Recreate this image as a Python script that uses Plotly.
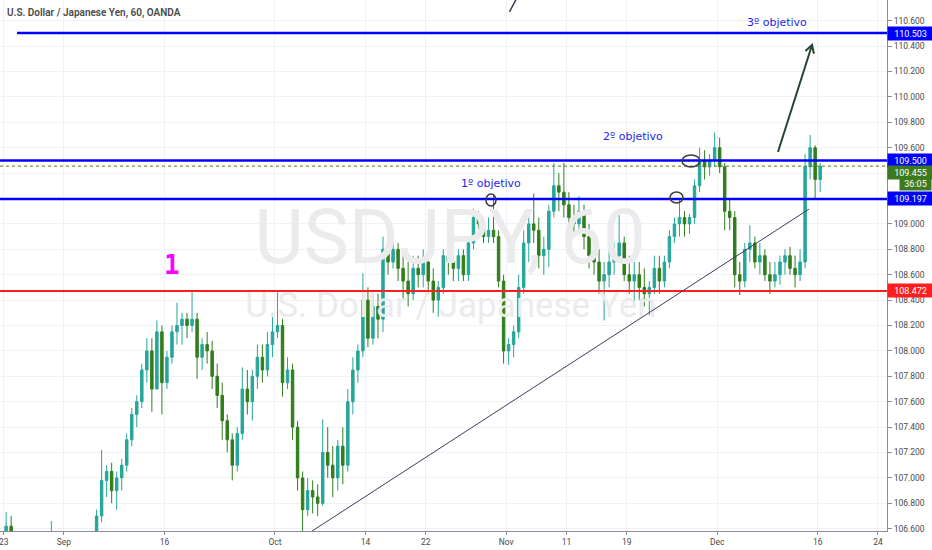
import pandas as pd
import plotly.graph_objects as go

# ---------------- data (half-day candles, USDJPY 60 OANDA) -------------
first_open = 106.55
highs = [
    106.73, 106.70, 105.60, 105.90, 106.00, 106.00, 106.20, 106.30, 106.40, 106.66,
    106.50, 106.40, 106.30, 106.20, 106.10, 106.10, 106.30, 106.50, 106.75, 107.22,
    107.10, 107.12, 107.05, 107.15, 107.35, 107.55, 107.65, 107.90, 108.10, 108.10,
    108.24, 108.20, 108.00, 108.20, 108.38, 108.30, 108.30, 108.47, 108.30, 108.10,
    108.15, 108.08, 107.90, 107.75, 107.50, 107.35, 107.40, 107.87, 107.85, 107.85,
    108.05, 108.05, 108.15, 108.30, 108.46, 108.25, 107.95, 107.90, 107.45, 107.05,
    107.00, 106.98, 106.95, 107.46, 107.40, 107.25, 107.30, 107.40, 107.70, 107.95,
    108.05, 108.61, 108.50, 108.45, 108.45, 108.90, 108.90, 108.88, 108.85, 108.80,
    108.70, 108.75, 108.75, 108.80, 108.78, 108.65, 108.55, 108.80, 108.85, 108.80,
    108.80, 108.80, 108.90, 109.12, 109.10, 109.05, 109.05, 109.22, 108.95, 108.60,
    108.10, 108.20, 108.60, 108.95, 109.10, 109.24, 109.05, 108.90, 109.15, 109.48,
    109.40, 109.48, 109.25, 109.15, 109.22, 109.15, 109.00, 108.85, 108.80, 108.70,
    108.80, 108.85, 109.07, 108.90, 108.75, 108.70, 108.70, 108.65, 108.55, 108.75,
    108.75, 108.75, 108.95, 109.05, 109.20, 109.10, 109.08, 109.35, 109.60, 109.58,
    109.55, 109.72, 109.68, 109.48, 109.20, 109.10, 108.70, 108.85, 108.99, 108.90,
    108.85, 108.80, 108.70, 108.70, 108.75, 108.80, 108.82, 108.75, 108.80, 109.55,
    109.70, 109.62, 109.48,
]
lows = [
    106.40, 105.35, 104.50, 105.00, 105.60, 105.70, 105.70, 106.00, 106.00, 106.20,
    106.20, 106.10, 105.90, 105.90, 105.70, 105.80, 105.90, 106.10, 106.35, 106.65,
    106.85, 106.80, 106.75, 106.90, 107.05, 107.25, 107.40, 107.55, 107.75, 107.52,
    107.70, 107.50, 107.70, 107.90, 108.05, 108.05, 108.10, 108.15, 107.78, 107.85,
    107.90, 107.70, 107.55, 107.30, 107.20, 106.98, 107.05, 107.30, 107.50, 107.45,
    107.70, 107.75, 107.80, 107.95, 108.10, 107.64, 107.70, 107.30, 106.90, 106.48,
    106.70, 106.72, 106.70, 106.78, 107.00, 106.85, 106.90, 106.95, 107.05, 107.50,
    107.75, 107.95, 108.03, 108.05, 108.10, 108.15, 108.60, 108.65, 108.55, 108.40,
    108.35, 108.40, 108.50, 108.50, 108.45, 108.30, 108.27, 108.45, 108.60, 108.55,
    108.55, 108.55, 108.55, 108.80, 108.90, 108.85, 108.85, 108.85, 108.50, 107.90,
    107.89, 107.95, 108.10, 108.45, 108.70, 108.85, 108.65, 108.60, 108.66, 109.05,
    109.10, 109.05, 108.95, 108.90, 108.95, 108.80, 108.65, 108.60, 108.45, 108.24,
    108.50, 108.60, 108.70, 108.55, 108.45, 108.35, 108.40, 108.35, 108.28, 108.45,
    108.45, 108.50, 108.65, 108.85, 108.90, 108.90, 108.92, 109.00, 109.25, 109.35,
    109.38, 109.45, 109.40, 108.95, 108.95, 108.50, 108.44, 108.50, 108.70, 108.65,
    108.60, 108.55, 108.45, 108.50, 108.52, 108.60, 108.60, 108.50, 108.55, 108.65,
    109.35, 109.20, 109.25,
]
closes = [
    106.62, 105.40, 105.10, 105.70, 105.90, 105.80, 106.10, 106.20, 106.30, 106.45,
    106.30, 106.25, 106.10, 106.00, 105.90, 106.00, 106.20, 106.40, 106.70, 106.98,
    107.05, 106.90, 107.00, 107.10, 107.30, 107.50, 107.60, 107.85, 108.00, 107.70,
    108.15, 107.75, 107.95, 108.15, 108.20, 108.25, 108.20, 108.25, 107.95, 108.05,
    108.00, 107.80, 107.65, 107.45, 107.30, 107.10, 107.35, 107.70, 107.60, 107.80,
    107.95, 107.85, 108.05, 108.15, 108.20, 107.75, 107.85, 107.40, 107.00, 106.75,
    106.90, 106.85, 106.80, 107.20, 107.10, 107.00, 107.25, 107.10, 107.60, 107.85,
    108.00, 108.40, 108.10, 108.35, 108.25, 108.80, 108.70, 108.80, 108.65, 108.55,
    108.45, 108.65, 108.60, 108.70, 108.55, 108.40, 108.50, 108.75, 108.70, 108.65,
    108.75, 108.60, 108.85, 109.05, 109.00, 108.90, 108.95, 108.90, 108.55, 108.00,
    108.05, 108.15, 108.50, 108.85, 109.00, 108.95, 108.75, 108.80, 109.10, 109.30,
    109.25, 109.15, 109.05, 109.00, 109.10, 108.90, 108.75, 108.70, 108.55, 108.60,
    108.70, 108.75, 108.85, 108.60, 108.55, 108.60, 108.50, 108.45, 108.50, 108.65,
    108.55, 108.70, 108.90, 109.00, 109.05, 109.00, 109.05, 109.30, 109.50, 109.45,
    109.50, 109.60, 109.45, 109.10, 109.05, 108.60, 108.55, 108.80, 108.85, 108.70,
    108.75, 108.60, 108.55, 108.60, 108.70, 108.75, 108.65, 108.60, 108.70, 109.45,
    109.60, 109.35, 109.455,
]
opens = [first_open] + closes[:-1]

trading_days = pd.bdate_range("2019-08-23", "2019-12-16")
times = []
for d in trading_days:
    times.append(d + pd.Timedelta(hours=6))
    times.append(d + pd.Timedelta(hours=18))
times = times[:len(closes)]

x_tick_dates = ["2019-08-23", "2019-09-02", "2019-09-16", "2019-10-01", "2019-10-14", "2019-10-22",
                "2019-11-01", "2019-11-11", "2019-11-19", "2019-12-02", "2019-12-16", "2019-12-24"]
x_tick_text = ["23", "Sep", "16", "Oct", "14", "22", "Nov", "11", "19", "Dec", "16", "24"]
y_ticks = [106.6, 106.8, 107.0, 107.2, 107.4, 107.6, 107.8, 108.0, 108.2, 108.4, 108.6,
           108.8, 109.0, 109.2, 109.4, 109.6, 109.8, 110.0, 110.2, 110.4, 110.6]
y_ticks_hidden = [109.2, 109.4]   # covered by the price labels in the reference

levels_blue = [110.503, 109.500, 109.197]
level_red = 108.472
last_price = 109.455
countdown = "36:05"

# drawings (time, price anchors)
trend_line = [("2019-10-04 15:50", 106.58), ("2019-12-13 03:22", 109.117)]
arrow_line = [("2019-12-10 01:12", 109.566), ("2019-12-13 10:34", 110.409)]
top_stroke = [("2019-11-01 08:00", 110.67), ("2019-11-04 10:00", 110.83)]
ellipses = [
    ("2019-10-29 23:45", "2019-10-30 23:45", 109.141, 109.235),
    ("2019-11-25 07:26", "2019-11-26 14:24", 109.165, 109.251),
    ("2019-11-26 12:00", "2019-11-28 06:58", 109.448, 109.543),
]
texts = [("1º objetivo", "2019-10-30 12:00", 109.322),
         ("2º objetivo", "2019-11-19 15:07", 109.692),
         ("3º objetivo", "2019-12-09 23:00", 110.582)]
label_one = ("1", "2019-09-16 17:00", 108.676)
watermark = [("USDJPY, 60", "2019-10-24 10:05", 108.842, 76),
             ("U.S. Dollar / Japanese Yen", "2019-10-24 12:28", 108.338, 35)]

UP = "#26a69a"
DN = "#317d1c"
BLUE = "#0000ff"
RED = "#ff1e1e"
GREEN_LBL = "#3d7a1e"
TXT = "#4a4a4a"
GRID = "#eef2f7"
AXIS = "#8a8d96"

fig = go.Figure()

for txt, xd, yp, size in watermark:
    fig.add_trace(go.Scatter(x=[xd], y=[yp], mode="text", text=[txt],
                             textfont=dict(size=size, color="#ebebed", family="Roboto"),
                             hoverinfo="skip", showlegend=False))

fig.add_trace(go.Candlestick(
    x=times, open=opens, high=highs, low=lows, close=closes,
    increasing=dict(line=dict(color=UP, width=1), fillcolor=UP),
    decreasing=dict(line=dict(color=DN, width=1), fillcolor=DN),
    whiskerwidth=0, showlegend=False))

shapes = []
shapes.append(dict(type="line", xref="paper", yref="y", x0=0.0192, x1=1, y0=levels_blue[0], y1=levels_blue[0],
                   line=dict(color=BLUE, width=2.5)))
shapes.append(dict(type="line", xref="paper", yref="y", x0=0, x1=1, y0=levels_blue[1], y1=levels_blue[1],
                   line=dict(color=BLUE, width=2.5)))
shapes.append(dict(type="line", xref="paper", yref="y", x0=0, x1=1, y0=levels_blue[2], y1=levels_blue[2],
                   line=dict(color=BLUE, width=2.5)))
shapes.append(dict(type="line", xref="paper", yref="y", x0=0, x1=1, y0=level_red, y1=level_red,
                   line=dict(color=RED, width=2)))
shapes.append(dict(type="line", xref="paper", yref="y", x0=0, x1=1, y0=last_price, y1=last_price,
                   line=dict(color="#4f7a28", width=1, dash="dot")))
shapes.append(dict(type="line", xref="x", yref="y", x0=trend_line[0][0], y0=trend_line[0][1],
                   x1=trend_line[1][0], y1=trend_line[1][1], line=dict(color="#3d3d5c", width=1)))
shapes.append(dict(type="line", xref="x", yref="y", x0=arrow_line[0][0], y0=arrow_line[0][1],
                   x1=arrow_line[1][0], y1=arrow_line[1][1], line=dict(color="#24452e", width=2)))
shapes.append(dict(type="path", xref="x", yref="y", xsizemode="pixel", ysizemode="pixel",
                   xanchor=arrow_line[1][0], yanchor=arrow_line[1][1],
                   path="M -6.6 -6.1 L 0 0 L 1.9 -8.8", line=dict(color="#24452e", width=2)))
shapes.append(dict(type="line", xref="x", yref="y", x0=top_stroke[0][0], y0=top_stroke[0][1],
                   x1=top_stroke[1][0], y1=top_stroke[1][1], line=dict(color="#3a3a4a", width=1.5)))
for x0, x1, y0, y1 in ellipses:
    shapes.append(dict(type="circle", xref="x", yref="y", x0=x0, x1=x1, y0=y0, y1=y1,
                       line=dict(color="#3b3b3b", width=1.5)))

annotations = []
annotations.append(dict(text="U.S. Dollar / Japanese Yen, 60, OANDA", xref="paper", yref="paper",
                        x=0, y=1, xanchor="left", yanchor="top", xshift=5, yshift=-5, showarrow=False,
                        font=dict(size=10, color=TXT, family="Roboto", weight=600)))
for txt, xd, yp in texts:
    annotations.append(dict(text=txt, x=xd, y=yp, xref="x", yref="y", showarrow=False,
                            font=dict(size=11, color="#1f1ff0", family="DejaVu Sans")))
annotations.append(dict(text=label_one[0], x=label_one[1], y=label_one[2], xref="x", yref="y", showarrow=False,
                        font=dict(size=26, color="#ff00ff", family="DejaVu Sans Mono", weight="bold")))
# first date label sits on the left edge of the pane (plotly drops it as a tick label)
annotations.append(dict(text=x_tick_text[0], x=x_tick_dates[0], y=0, xref="x", yref="paper",
                        yanchor="top", yshift=-4, showarrow=False,
                        font=dict(size=8.5, color=TXT, family="Roboto")))

price_labels = [(levels_blue[0], "110.503", BLUE, 0),
                (levels_blue[1], "109.500", BLUE, 0),
                (levels_blue[2], "109.197", BLUE, 0),
                (level_red, "108.472", RED, 0),
                (last_price, "109.455", GREEN_LBL, -6)]
for yp, txt, bg, ysh in price_labels:
    annotations.append(dict(text=txt, x=1, y=yp, xref="paper", yref="y", xanchor="left", yanchor="middle",
                            yshift=ysh, showarrow=False, bgcolor=bg, width=43, height=11, borderpad=1,
                            align="center", font=dict(size=9, color="white", family="Roboto")))
annotations.append(dict(text=countdown, x=1, y=last_price, xref="paper", yref="y", xanchor="left",
                        yanchor="middle", xshift=12, yshift=-18, showarrow=False, bgcolor=GREEN_LBL,
                        width=29, height=10, borderpad=1, align="center",
                        font=dict(size=9, color="white", family="Roboto")))

fig.update_layout(
    width=932, height=550,
    margin=dict(l=0, r=45, t=0, b=19),
    paper_bgcolor="white", plot_bgcolor="white",
    showlegend=False,
    shapes=shapes, annotations=annotations,
    xaxis=dict(type="date", range=["2019-08-22 15:21", "2019-12-24 21:36"],
               rangebreaks=[dict(bounds=["sat", "mon"])],
               tickvals=x_tick_dates, ticktext=x_tick_text,
               showgrid=True, gridcolor=GRID, gridwidth=1,
               showline=True, linecolor=AXIS, linewidth=1,
               ticks="outside", ticklen=3, tickcolor=AXIS,
               tickfont=dict(size=8.5, color=TXT, family="Roboto"),
               rangeslider=dict(visible=False), zeroline=False, fixedrange=True),
    yaxis=dict(side="right", range=[106.582, 110.763],
               tickvals=y_ticks,
               ticktext=["" if v in y_ticks_hidden else f"{v:.3f}" for v in y_ticks],
               showgrid=True, gridcolor=GRID, gridwidth=1,
               showline=True, linecolor=AXIS, linewidth=1,
               ticks="outside", ticklen=4, tickcolor=AXIS,
               tickfont=dict(size=8.5, color=TXT, family="Roboto"),
               zeroline=False, fixedrange=True),
)

fig.write_html("out.html", config={"displayModeBar": False},
               post_script="document.body.style.margin='0px';document.body.style.overflow='hidden';")
